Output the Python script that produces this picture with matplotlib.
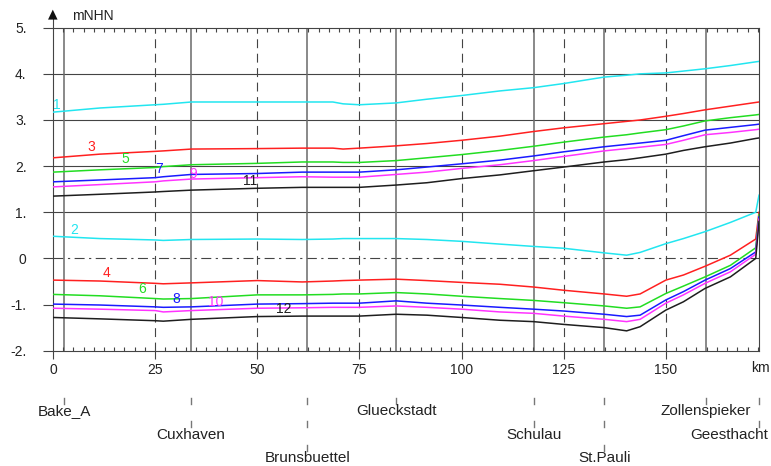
import matplotlib
matplotlib.use("Agg")
import matplotlib.pyplot as plt
import matplotlib.transforms as mtransforms
from matplotlib.lines import Line2D

plt.rcParams['font.family'] = ['Liberation Sans', 'DejaVu Sans']

# ---------------- data ----------------
km = [0, 11.5, 25, 27, 33.9, 50, 61, 68.5, 71, 75, 84, 91.5, 100, 109.4, 117.6,
      125, 134.9, 140.4, 143.7, 150, 154.3, 159.6, 165.8, 172.0, 172.8]

c1 = [3.17, 3.26, 3.33, 3.34, 3.39, 3.39, 3.39, 3.39, 3.35, 3.33, 3.37, 3.45, 3.53, 3.63, 3.70,
      3.79, 3.93, 3.97, 4.00, 4.02, 4.06, 4.11, 4.18, 4.26, 4.27]
c3 = [2.18, 2.26, 2.32, 2.33, 2.37, 2.38, 2.39, 2.39, 2.37, 2.39, 2.44, 2.49, 2.56, 2.65, 2.75,
      2.83, 2.92, 2.97, 3.00, 3.08, 3.14, 3.22, 3.30, 3.38, 3.39]
c5 = [1.87, 1.92, 1.97, 1.99, 2.03, 2.06, 2.09, 2.09, 2.08, 2.08, 2.12, 2.18, 2.25, 2.34, 2.43,
      2.52, 2.63, 2.68, 2.72, 2.79, 2.87, 2.98, 3.05, 3.11, 3.12]
c7 = [1.66, 1.70, 1.75, 1.77, 1.82, 1.84, 1.87, 1.87, 1.87, 1.87, 1.92, 1.98, 2.05, 2.13, 2.22,
      2.31, 2.42, 2.47, 2.50, 2.56, 2.66, 2.78, 2.84, 2.90, 2.91]
c9 = [1.55, 1.60, 1.66, 1.68, 1.72, 1.75, 1.77, 1.76, 1.76, 1.76, 1.82, 1.87, 1.95, 2.03, 2.12,
      2.21, 2.33, 2.38, 2.41, 2.47, 2.56, 2.68, 2.73, 2.79, 2.80]
c11 = [1.35, 1.39, 1.44, 1.45, 1.48, 1.52, 1.54, 1.54, 1.54, 1.54, 1.59, 1.64, 1.73, 1.81, 1.90,
       1.98, 2.09, 2.14, 2.18, 2.26, 2.34, 2.42, 2.50, 2.60, 2.61]

c2 = [0.48, 0.43, 0.40, 0.39, 0.41, 0.42, 0.41, 0.42, 0.43, 0.43, 0.43, 0.41, 0.37, 0.31, 0.26,
      0.22, 0.12, 0.07, 0.13, 0.32, 0.43, 0.58, 0.78, 1.00, 1.37]
c4 = [-0.47, -0.49, -0.54, -0.55, -0.53, -0.48, -0.51, -0.49, -0.48, -0.47, -0.45, -0.48, -0.52, -0.56, -0.62,
      -0.69, -0.77, -0.82, -0.77, -0.47, -0.36, -0.17, 0.07, 0.42, 1.00]
c6 = [-0.78, -0.81, -0.87, -0.88, -0.87, -0.79, -0.79, -0.78, -0.77, -0.77, -0.74, -0.77, -0.82, -0.87, -0.91,
      -0.96, -1.03, -1.08, -1.05, -0.76, -0.60, -0.40, -0.15, 0.23, 0.95]
c8 = [-0.99, -1.01, -1.05, -1.06, -1.05, -0.99, -0.98, -0.97, -0.97, -0.97, -0.92, -0.97, -1.01, -1.06, -1.10,
      -1.14, -1.21, -1.26, -1.23, -0.90, -0.72, -0.47, -0.22, 0.14, 0.90]
c10 = [-1.08, -1.10, -1.13, -1.16, -1.13, -1.08, -1.07, -1.06, -1.06, -1.06, -1.03, -1.06, -1.10, -1.16, -1.19,
       -1.25, -1.32, -1.37, -1.32, -0.97, -0.79, -0.54, -0.29, 0.09, 0.85]
c12 = [-1.28, -1.31, -1.35, -1.36, -1.32, -1.26, -1.25, -1.25, -1.25, -1.25, -1.21, -1.23, -1.28, -1.34, -1.37,
       -1.43, -1.50, -1.57, -1.48, -1.12, -0.94, -0.65, -0.40, 0.00, 0.80]

curve_ids = ["1", "2", "3", "4", "5", "6", "7", "8", "9", "10", "11", "12"]
curve_vals = [c1, c2, c3, c4, c5, c6, c7, c8, c9, c10, c11, c12]
curve_colors = ["#22e6f0", "#22e6f0", "#ff2020", "#ff2020", "#22dd22", "#22dd22",
                "#1a1aff", "#1a1aff", "#ff33ff", "#ff33ff", "#1e1e1e", "#1e1e1e"]
label_km = [1.0, 5.1, 9.3, 13.2, 17.6, 21.8, 25.9, 30.1, 34.3, 39.7, 48.2, 56.5]
label_val = [3.32, 0.61, 2.41, -0.32, 2.15, -0.66, 1.93, -0.88, 1.84, -0.94, 1.67, -1.10]

stations = ["Bake_A", "Cuxhaven", "Brunsbuettel", "Glueckstadt", "Schulau",
            "St.Pauli", "Zollenspieker", "Geesthacht"]
station_km = [2.7, 33.8, 62.2, 84.0, 117.7, 134.9, 159.8, 172.8]
station_row = [0, 1, 2, 0, 1, 2, 0, 1]

xticks = [0, 25, 50, 75, 100, 125, 150]
yticks = [5, 4, 3, 2, 1, 0, -1, -2]
ytick_labels = ["5.", "4.", "3.", "2.", "1.", "0", "-1.", "-2."]
x_max = 172.8

# ---------------- figure ----------------
W, H = 771, 466
fig = plt.figure(figsize=(W / 100, H / 100), dpi=100)
ax = fig.add_axes([53 / W, 1 - 350.7 / H, (759 - 53) / W, (350.7 - 27.7) / H])
ax.set_xlim(0, x_max)
ax.set_ylim(-2, 5)

grid_c = "#444444"
lw_g = 0.8
for y in [1, 2, 3, 4]:
    ax.axhline(y, color=grid_c, lw=lw_g, zorder=1)
ax.axhline(0, color=grid_c, lw=lw_g, ls=(0, (9, 4, 2, 4)), zorder=1)
for x in xticks[1:]:
    ax.axvline(x, color=grid_c, lw=lw_g, ls=(0, (8, 5)), zorder=1)
for s in station_km[:-1]:
    ax.axvline(s, color="#6a6a6a", lw=1.1, zorder=1)

for cid, vals, col in zip(curve_ids, curve_vals, curve_colors):
    ax.plot(km, vals, color=col, lw=1.1, zorder=3)

for cid, lx, ly, col in zip(curve_ids, label_km, label_val, curve_colors):
    ax.text(lx, ly, cid, color=col, fontsize=10, ha="center", va="center", zorder=4)

for sp in ax.spines.values():
    sp.set_color(grid_c)
    sp.set_linewidth(lw_g)

ax.set_xticks(xticks)
ax.set_xticklabels([str(x) for x in xticks], fontsize=10, color="#222222")
ax.set_yticks(yticks)
ax.set_yticklabels(ytick_labels, fontsize=10, color="#222222")
ax.tick_params(axis="x", which="major", direction="out", length=6, width=0.8,
               color=grid_c, pad=3)
ax.tick_params(axis="y", which="major", direction="out", length=7, width=0.8,
               color=grid_c, pad=12)
ax.set_xticks([i * 2.5 for i in range(70) if i * 2.5 <= x_max], minor=True)
ax.tick_params(axis="x", which="minor", direction="in", length=3, width=0.8,
               color=grid_c, top=True, bottom=True)

# extended left axis with arrow
fig.add_artist(Line2D([53 / W, 53 / W], [1 - 27.7 / H, 1 - 16 / H],
                      color=grid_c, lw=lw_g, transform=fig.transFigure))
fig.text(53 / W, 1 - 13.5 / H, "\u25B2", fontsize=9, ha="center", va="center",
         color="#111111", family=["DejaVu Sans"])
fig.text(72 / W, 1 - 16 / H, "mNHN", fontsize=10, ha="left", va="center",
         color="#222222")
fig.text(770 / W, 1 - 368 / H, "km", fontsize=10, ha="right", va="center",
         color="#222222")

# station labels below the axis
trans = mtransforms.blended_transform_factory(ax.transData, fig.transFigure)
row_y = [411, 435, 458]
tick_rows = [(398, 404), (421, 427), (445, 451)]
for name, skm, row in zip(stations, station_km, station_row):
    for r in range(row + 1):
        y0, y1 = tick_rows[r]
        ax.add_artist(Line2D([skm, skm], [1 - y0 / H, 1 - y1 / H], color="#777777",
                             lw=1.0, transform=trans, clip_on=False))
    if name == "Geesthacht":
        fig.text(768 / W, 1 - row_y[row] / H, name, fontsize=11, ha="right",
                 va="center", color="#222222")
    else:
        ax.text(skm, 1 - row_y[row] / H, name, fontsize=11, ha="center",
                va="center", color="#222222", transform=trans, clip_on=False)

fig.savefig("out.png", dpi=100)
